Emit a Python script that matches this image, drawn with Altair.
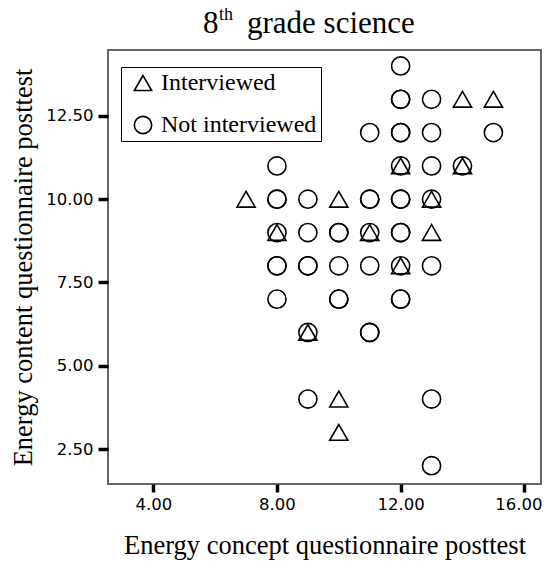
import altair as alt
import pandas as pd

# Interviewed (triangles)
x_interviewed = [14, 15, 12, 14, 7, 10, 13, 8, 11, 13, 12, 9, 10, 10]
y_interviewed = [13, 13, 11, 11, 10, 10, 10, 9, 9, 9, 8, 6, 4, 3]

# Not interviewed (circles); repeated entries are overlapping cases
x_not = [12, 12, 12, 13, 11, 12, 12, 13, 15, 8, 12, 13, 14,
         8, 8, 9, 11, 11, 12, 12, 13, 8, 9, 10, 10, 11, 12, 12,
         8, 8, 9, 9, 10, 11, 12, 13, 8, 10, 10, 12, 12,
         9, 11, 11, 9, 13, 13]
y_not = [14, 13, 13, 13, 12, 12, 12, 12, 12, 11, 11, 11, 11,
         10, 10, 10, 10, 10, 10, 10, 10, 9, 9, 9, 9, 9, 9, 9,
         8, 8, 8, 8, 8, 8, 8, 8, 7, 7, 7, 7, 7,
         6, 6, 6, 4, 4, 2]

groups = ["Interviewed", "Not interviewed"]
x_ticks = [4, 8, 12, 16]
y_ticks = [2.5, 5, 7.5, 10, 12.5]
title_parts = ["8", "th", "grade science"]

df = pd.DataFrame({
    "x": x_interviewed + x_not,
    "y": y_interviewed + y_not,
    "group": [groups[0]] * len(x_interviewed) + [groups[1]] * len(x_not),
})

points = alt.Chart(df).mark_point(
    filled=False, size=330, strokeWidth=1.6, color="black", opacity=1
).encode(
    x=alt.X("x:Q",
            scale=alt.Scale(domain=[2.535, 16.54], nice=False, zero=False),
            axis=alt.Axis(values=x_ticks, format=".2f",
                          title="Energy concept questionnaire posttest",
                          tickSize=8, labelPadding=4, titlePadding=20,
                          labelOffset={"condition": {"test": "datum.value >= 16", "value": -6},
                                       "value": 0})),
    y=alt.Y("y:Q",
            scale=alt.Scale(domain=[1.45, 14.48], nice=False, zero=False),
            axis=alt.Axis(values=y_ticks, format=".2f",
                          title="Energy content questionnaire posttest",
                          tickSize=10, labelPadding=5, titlePadding=8)),
    shape=alt.Shape("group:N",
                    scale=alt.Scale(domain=groups, range=["triangle-up", "circle"]),
                    legend=alt.Legend(title=None, orient="none", legendX=13, legendY=17,
                                      strokeColor="black", padding=4, symbolOffset=6,
                                      labelFont="Liberation Serif", labelFontSize=24,
                                      labelColor="black", labelOffset=6,
                                      symbolSize=300, symbolStrokeWidth=1.6,
                                      symbolStrokeColor="black", symbolFillColor="transparent",
                                      rowPadding=18)),
)

one = pd.DataFrame({"k": [0]})
t1 = alt.Chart(one).mark_text(font="Liberation Serif", fontSize=31, align="left",
                              baseline="alphabetic", color="black").encode(
    x=alt.value(95), y=alt.value(-17), text=alt.value(title_parts[0]))
t2 = alt.Chart(one).mark_text(font="Liberation Serif", fontSize=18, align="left",
                              baseline="alphabetic", color="black").encode(
    x=alt.value(111), y=alt.value(-30), text=alt.value(title_parts[1]))
t3 = alt.Chart(one).mark_text(font="Liberation Serif", fontSize=31, align="left",
                              baseline="alphabetic", color="black").encode(
    x=alt.value(139), y=alt.value(-17), text=alt.value(title_parts[2]))

chart = alt.layer(points, t1, t2, t3).properties(
    width=433, height=434, autosize="none",
    padding={"left": 100, "top": 42, "right": 2, "bottom": 77},
).configure_view(
    stroke="#666666", strokeWidth=2
).configure_axis(
    grid=False, domain=False, tickColor="black", tickWidth=3.5,
    labelFont="DejaVu Sans", labelFontSize=16.5, labelColor="black",
    titleFont="Liberation Serif", titleFontSize=26.5, titleFontWeight="normal",
    titleColor="black",
)

chart.save("out.html", embed_options={"renderer": "svg", "actions": False})
